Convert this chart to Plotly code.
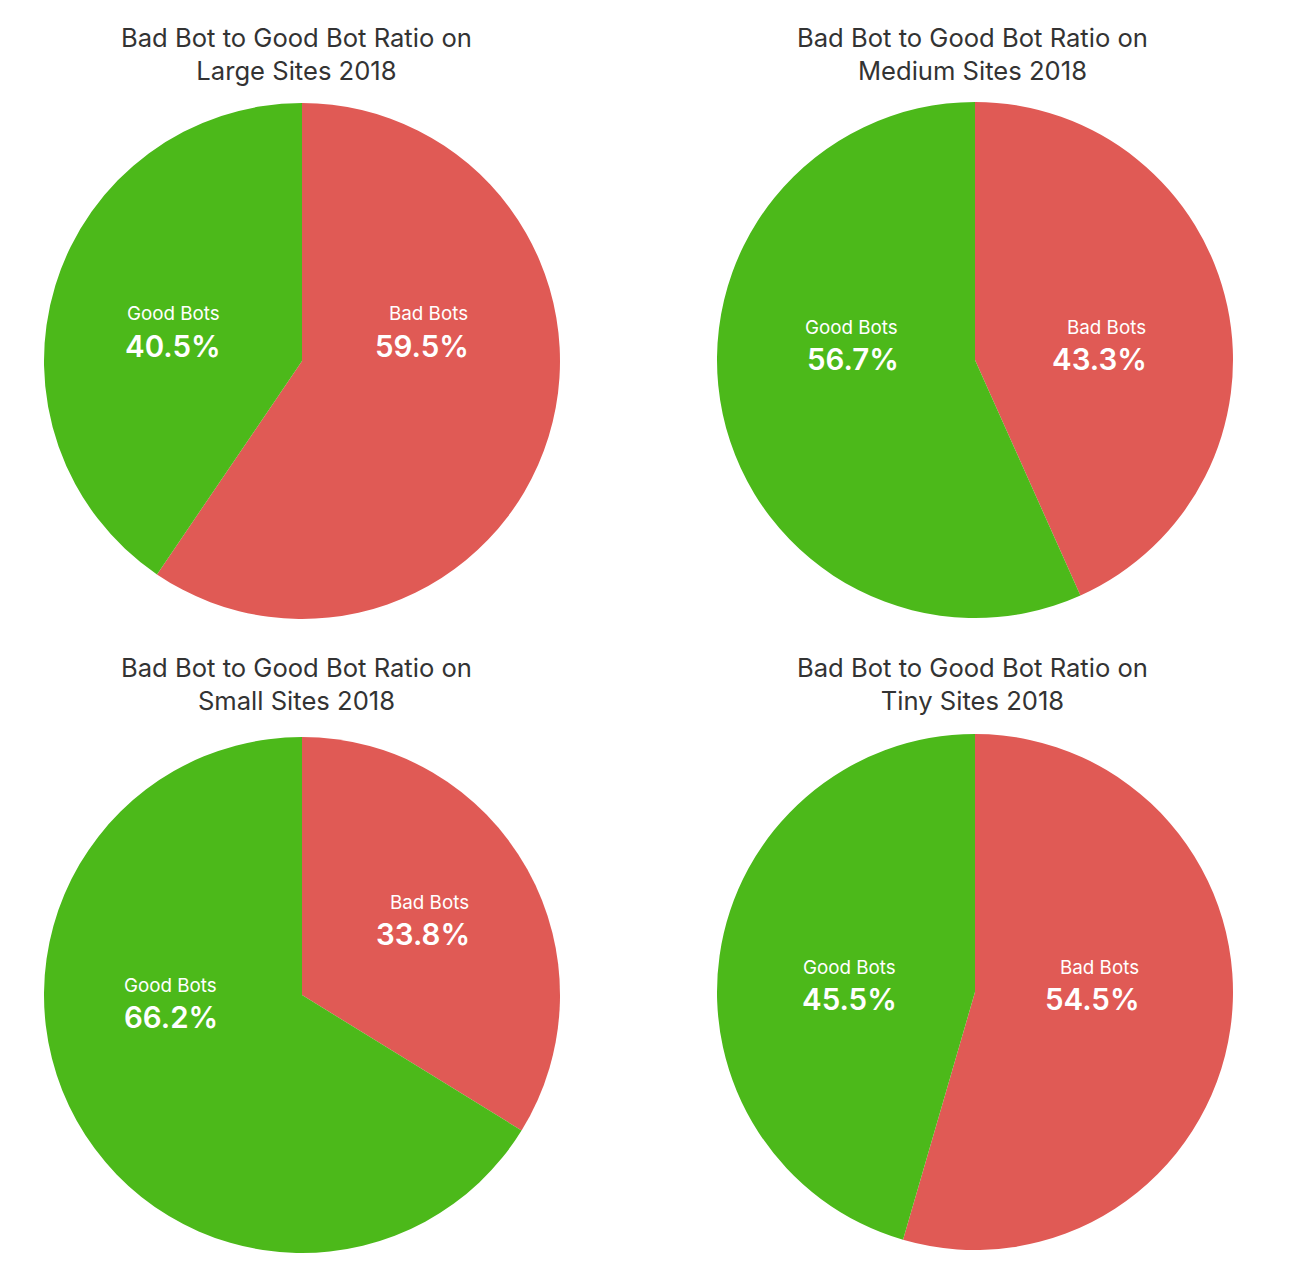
import plotly.graph_objects as go

OFF = 8  # browser body margin
W, H = 1310 - OFF, 1272 - OFF

titles = [
    "Bad Bot to Good Bot Ratio on<br>Large Sites 2018",
    "Bad Bot to Good Bot Ratio on<br>Medium Sites 2018",
    "Bad Bot to Good Bot Ratio on<br>Small Sites 2018",
    "Bad Bot to Good Bot Ratio on<br>Tiny Sites 2018",
]
labels = ["Bad Bots", "Good Bots"]
bad_values = [59.5, 43.3, 33.8, 54.5]
good_values = [40.5, 56.7, 66.2, 45.5]

colors = ["#E05A55", "#4CB91A"]

# layout (page pixels) for each pie: left, top, size
pie_boxes = [(44, 103, 516), (717, 102, 516), (44, 737, 516), (717, 734, 516)]
title_pos = [(296, 54), (972, 54), (296, 684), (972, 684)]
# label anchor (right edge x, label center y) for [bad, good]
label_pos = [
    [(470, 314), (222, 314)],
    [(1148, 327), (900, 327)],
    [(471, 902), (219, 985)],
    [(1141, 967), (898, 967)],
]


def px(x):
    return (x - OFF) / W


def py(y):
    return 1 - (y - OFF) / H


fig = go.Figure()
annotations = []
for i in range(4):
    x0, y0, s = pie_boxes[i]
    vals = [bad_values[i], good_values[i]]
    fig.add_trace(go.Pie(
        labels=labels,
        values=vals,
        sort=False,
        direction="clockwise",
        rotation=0,
        marker=dict(colors=colors, line=dict(width=0)),
        textinfo="none",
        hoverinfo="label+percent",
        showlegend=False,
        domain=dict(x=[px(x0), px(x0 + s)], y=[py(y0 + s), py(y0)]),
    ))
    tx, ty = title_pos[i]
    annotations.append(dict(
        text=titles[i], x=px(tx), y=py(ty), xref="paper", yref="paper",
        xanchor="center", yanchor="middle", showarrow=False, align="center",
        font=dict(family="Inter", size=25.6, color="#333333"),
    ))
    for j in range(2):
        rx, ry = label_pos[i][j]
        annotations.append(dict(
            text=labels[j], x=px(rx), y=py(ry), xref="paper", yref="paper",
            xanchor="right", yanchor="middle", showarrow=False, align="right",
            font=dict(family="Inter", size=18.8, color="#FFFFFF"),
        ))
        annotations.append(dict(
            text="%.1f%%" % vals[j], x=px(rx + 1), y=py(ry + 32),
            xref="paper", yref="paper",
            xanchor="right", yanchor="middle", showarrow=False, align="right",
            font=dict(family="Inter", size=29.5, color="#FFFFFF", weight=600),
        ))

fig.update_layout(
    width=W, height=H, autosize=False,
    margin=dict(l=0, r=0, t=0, b=0),
    paper_bgcolor="#FFFFFF", plot_bgcolor="#FFFFFF",
    annotations=annotations,
    font=dict(family="Inter"),
)
fig.write_html("out.html")
